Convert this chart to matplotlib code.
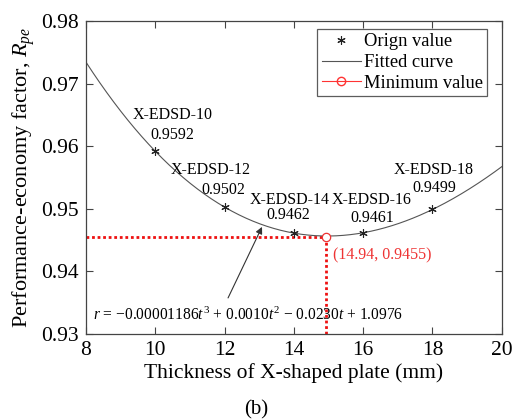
import numpy as np
import matplotlib
matplotlib.use("Agg")
import matplotlib.pyplot as plt

plt.rcParams['font.family'] = ['Liberation Serif', 'DejaVu Serif']
plt.rcParams['mathtext.fontset'] = 'custom'
plt.rcParams['mathtext.rm'] = 'Liberation Serif'
plt.rcParams['mathtext.it'] = 'Liberation Serif:italic'

# Specimen thickness (mm) and performance-economy factor
thickness = [10, 12, 14, 16, 18]
rpe = [0.9592, 0.9502, 0.9462, 0.9461, 0.9499]
names = ['X-EDSD-10', 'X-EDSD-12', 'X-EDSD-14', 'X-EDSD-16', 'X-EDSD-18']
value_labels = ['0.9592', '0.9502', '0.9462', '0.9461', '0.9499']

# Minimum of the fitted curve
t_min = 14.94
r_min = 0.9455

x_ticks = [8, 10, 12, 14, 16, 18, 20]
y_ticks = [0.93, 0.94, 0.95, 0.96, 0.97, 0.98]

# Label placement (data coordinates)
name_pos = [(10.5, 0.9650), (11.6, 0.9562), (13.88, 0.9514), (16.25, 0.9514), (18.04, 0.9562)]
val_pos = [(10.5, 0.9618), (11.95, 0.9530), (13.85, 0.9490), (16.25, 0.94855), (18.05, 0.9533)]

fig = plt.figure(figsize=(5.12, 4.2), dpi=100)
ax = fig.add_axes([0.168, 0.205, 0.812, 0.745])

# Measured points
h_pts, = ax.plot(thickness, rpe, linestyle='none', marker=(6, 2, 0), markersize=6,
                 markeredgewidth=0.8, color='#222222', label='Orign value', zorder=3)

# Cubic least-squares fit of the measured points
coef = np.polyfit(thickness, rpe, 3)
tt = np.linspace(8, 20, 300)
h_fit, = ax.plot(tt, np.polyval(coef, tt), color='#555555', lw=0.8,
                 label='Fitted curve', zorder=2)

# Guide lines to the minimum
ax.plot([8, t_min], [r_min, r_min], color='#ee1111', ls=(0, (1, 1)), lw=2, zorder=1)
ax.plot([t_min, t_min], [0.93, r_min], color='#ee1111', ls=(0, (1, 1)), lw=2, zorder=1)
ax.plot([t_min], [r_min], marker='o', markersize=6, mfc='white', mec='#ee3333',
        mew=0.9, linestyle='none', zorder=4)
# legend proxy for the minimum
h_min, = ax.plot([], [], color='#ff3333', lw=0.8, marker='o', markersize=6, mfc='none',
                 mec='#ff3333', label='Minimum value')

for n, (x, y) in zip(names, name_pos):
    ax.text(x, y, n, fontsize=11.5, ha='center', va='center')
for v, (x, y) in zip(value_labels, val_pos):
    ax.text(x, y, v, fontsize=11.5, ha='center', va='center')

ax.text(15.13, 0.9425, f'({t_min}, {r_min})', color='#ee3333', fontsize=11.5,
        ha='left', va='center')

ax.annotate('', xy=(13.08, 0.9471), xytext=(12.1, 0.93575),
            arrowprops=dict(arrowstyle='-|>', color='#333333', lw=0.8,
                            mutation_scale=10, shrinkA=0, shrinkB=0))
ax.text(8.2, 0.9330,
        r'$r$ = −0.00001186$t^3$ + 0.0010$t^2$ − 0.0230$t$ + 1.0976',
        fontsize=11.2, ha='left', va='center')

ax.set_xlim(8, 20)
ax.set_ylim(0.93, 0.98)
ax.set_xticks(x_ticks)
ax.set_yticks(y_ticks)
ax.set_yticklabels([f'{v:.2f}' for v in y_ticks])
ax.tick_params(direction='in', top=True, right=True, labelsize=15.5, length=5,
               width=0.8, color='#444444', pad=5)
for s in ax.spines.values():
    s.set_color('#444444')
    s.set_linewidth(0.9)

ax.set_xlabel('Thickness of X-shaped plate (mm)', fontsize=15.5, labelpad=2)
ax.set_ylabel(r'Performance-economy factor, $R_{pe}$', fontsize=16, labelpad=3)

leg = ax.legend(handles=[h_pts, h_fit, h_min], loc='upper right',
                bbox_to_anchor=(0.965, 0.975), borderaxespad=0, fontsize=13.3,
                frameon=True, fancybox=False, edgecolor='#333333', borderpad=0.25,
                handlelength=2.1, handletextpad=0.15, labelspacing=0.2)
leg.get_frame().set_linewidth(0.9)

fig.text(0.5, 0.025, '(b)', ha='center', va='center', fontsize=15)

fig.savefig('out.png', dpi=100)
